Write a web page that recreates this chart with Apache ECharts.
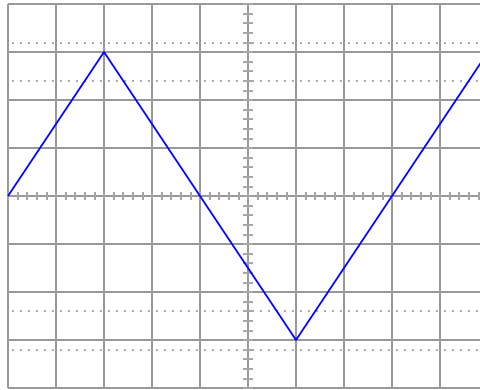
<!DOCTYPE html>
<html>
<head>
<meta charset="utf-8">
<script src="https://cdn.jsdelivr.net/npm/echarts@6/dist/echarts.min.js"></script>
<style>
  html, body { margin: 0; padding: 0; background: #fff; overflow: hidden; }
  /* graticule is 10 div wide, the last 8px fall outside the window */
  #chart { width: 496px; height: 390px; }
</style>
</head>
<body>
<div id="chart"></div>
<script>
// waveform vertices, in divisions from screen centre
var timeDiv = [-5, -3, 1, 5];
var voltDiv = [0, 3, -3, 3];
// dotted graticule markers (divisions from centre)
var dottedLevels = [3.2, 2.4, -2.4, -3.2];

var gridColor = '#9a9a9a';
var tickColor = '#a6a6a6';

function centreAxis (pos, half, tickLen, withSplit) {
  return {
    type: 'value', position: pos,
    min: -half, max: half, interval: 1,
    axisLine: { show: false, onZero: true },
    axisTick: { show: true, length: tickLen, inside: false,
      lineStyle: { color: tickColor, width: 2 } },
    minorTick: { show: true, splitNumber: 5, length: tickLen,
      lineStyle: { color: tickColor, width: 2 } },
    axisLabel: { show: false },
    splitLine: { show: withSplit, lineStyle: { color: gridColor, width: 2 } }
  };
}

var myChart = echarts.init(document.getElementById('chart'));
myChart.setOption({
  animation: false,
  grid: { left: 8, top: 4, right: 8, bottom: 2, containLabel: false },
  xAxis: [centreAxis('bottom', 5, 4, true), centreAxis('top', 5, 4, false)],
  yAxis: [centreAxis('left', 4, 5, true), centreAxis('right', 4, 5, false)],
  series: [
    {
      type: 'line',
      data: timeDiv.map(function (t, i) { return [t, voltDiv[i]]; }),
      showSymbol: false,
      symbol: 'none',
      lineStyle: { color: '#0000ff', width: 1.8 },
      z: 5,
      markLine: {
        silent: true,
        symbol: ['none', 'none'],
        label: { show: false },
        lineStyle: { color: '#aaaaaa', width: 2, type: [2, 6], dashOffset: 4 },
        data: dottedLevels.map(function (v) { return { yAxis: v }; })
      }
    }
  ]
});
</script>
</body>
</html>
